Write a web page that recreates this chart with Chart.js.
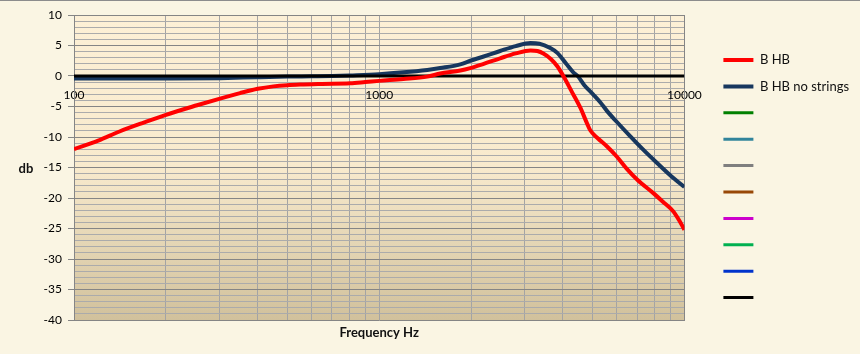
<!DOCTYPE html>
<html>
<head>
<meta charset="utf-8">
<script src="https://cdn.jsdelivr.net/npm/chart.js@4/dist/chart.umd.min.js"></script>
<style>
  html, body { margin: 0; padding: 0; background: #FAF5E3; }
  #wrap { width: 860px; height: 354px; position: relative; }
</style>
</head>
<body>
<div id="wrap"><canvas id="c" width="860" height="354"></canvas></div>
<script>
// ---- data ----
const seriesNames = ['B HB', 'B HB no strings', '', '', '', '', '', '', '', ''];
const seriesColors = ['#FF0000', '#17375E', '#008000', '#31849B', '#7F7F7F', '#984807', '#CC00CC', '#00B050', '#0033CC', '#000000'];

const bhbFreq = [100, 120, 141, 170, 199, 253, 301, 350, 400, 450, 500, 551, 650, 803, 900, 1000, 1200, 1437, 1585, 1844, 1988, 2200, 2490, 2800, 3130, 3300, 3450, 3650, 3833, 4012, 4300, 4560, 4800, 4915, 5200, 5590, 6000, 6500, 7010, 7910, 8500, 9200, 9600, 10000];
const bhbDb   = [-12.0, -10.6, -9.1, -7.6, -6.4, -4.8, -3.7, -2.8, -2.1, -1.7, -1.5, -1.4, -1.3, -1.2, -1.0, -0.8, -0.5, -0.1, 0.4, 0.9, 1.3, 2.0, 2.9, 3.7, 4.2, 4.1, 3.7, 2.8, 1.6, 0.0, -2.8, -5.2, -7.8, -8.9, -10.2, -11.6, -13.2, -15.3, -17.0, -19.2, -20.6, -22.2, -23.6, -25.2];

const noStrFreq = [100, 200, 300, 400, 500, 600, 700, 803, 1000, 1200, 1437, 1585, 1844, 1988, 2200, 2490, 2800, 3130, 3350, 3636, 3833, 4100, 4325, 4470, 4700, 5020, 5300, 5590, 6000, 6650, 7300, 8150, 9000, 10000];
const noStrDb   = [-0.4, -0.4, -0.35, -0.2, -0.1, -0.05, 0.0, 0.1, 0.3, 0.6, 1.0, 1.3, 1.9, 2.5, 3.2, 4.1, 4.9, 5.4, 5.3, 4.6, 3.8, 2.0, 0.6, 0.0, -1.5, -3.0, -4.3, -5.8, -7.5, -9.9, -12.0, -14.3, -16.3, -18.2];

const zeroFreq = [100, 10000];
const zeroDb = [0, 0];

const xTickLabels = [100, 1000, 10000];
const yMin = -40, yMax = 10, yMajorStep = 5;
const xTitle = 'Frequency Hz';
const yTitle = 'db';

// ---- build ----
const toPts = (fs, vs) => fs.map((f, i) => ({x: f, y: vs[i]}));
const xGridValues = [];
for (let d = 100; d < 10000; d *= 10) for (let k = 1; k <= 9; k++) xGridValues.push(d * k);
xGridValues.push(10000);
const yGridValues = [];
for (let v = yMin; v <= yMax; v++) yGridValues.push(v);

const seriesData = [toPts(bhbFreq, bhbDb), toPts(noStrFreq, noStrDb), [], [], [], [], [], [], [], toPts(zeroFreq, zeroDb)];
const seriesWidths = [4, 4, 3, 3, 3, 3, 3, 3, 3, 3];
const seriesOrder = [0, 2, 3, 3, 3, 3, 3, 3, 3, 1];

const datasets = seriesNames.map((name, i) => ({
  label: name,
  data: seriesData[i],
  borderColor: seriesColors[i],
  backgroundColor: seriesColors[i],
  borderWidth: seriesWidths[i],
  pointRadius: 0,
  pointHoverRadius: 0,
  cubicInterpolationMode: 'monotone',
  order: seriesOrder[i],
  fill: false
}));

const FONT = 'Lato';

const decorPlugin = {
  id: 'decor',
  beforeDraw(chart) {
    const {ctx, chartArea: a} = chart;
    ctx.save();
    const g = ctx.createLinearGradient(0, a.top, 0, a.bottom);
    g.addColorStop(0, '#FDF0D6');
    g.addColorStop(0.5, '#F8EACD');
    g.addColorStop(1, '#D1C19C');
    ctx.fillStyle = g;
    ctx.fillRect(a.left, a.top, a.right - a.left, a.bottom - a.top);
    ctx.fillStyle = '#8C8C8C';
    ctx.fillRect(0, 0, chart.width, 1);
    ctx.restore();
  },
  afterDraw(chart) {
    const {ctx, chartArea: a} = chart;
    ctx.save();
    ctx.font = 'bold 13px ' + FONT;
    ctx.fillStyle = '#111';
    ctx.textAlign = 'center';
    ctx.textBaseline = 'middle';
    ctx.fillText(yTitle, 26, (a.top + a.bottom) / 2 + 1);
    ctx.restore();
  }
};

new Chart(document.getElementById('c'), {
  type: 'line',
  data: { datasets },
  plugins: [decorPlugin],
  options: {
    responsive: false,
    animation: false,
    devicePixelRatio: 1,
    layout: { padding: { top: 15, right: 8, bottom: 11.4, left: 0 } },
    plugins: {
      tooltip: { enabled: false },
      legend: {
        position: 'right',
        align: 'center',
        labels: {
          usePointStyle: true,
          pointStyle: 'line',
          pointStyleWidth: 30,
          padding: 13.4,
          color: '#111',
          font: { family: FONT, size: 13 },
          sort: (a, b) => a.datasetIndex - b.datasetIndex
        }
      }
    },
    scales: {
      x: {
        type: 'logarithmic',
        axis: 'x',
        position: { y: 0 },
        min: 100,
        max: 10000,
        afterBuildTicks: s => { s.ticks = xGridValues.map(v => ({ value: v })); },
        ticks: {
          autoSkip: false,
          maxRotation: 0,
          padding: 12,
          color: '#000',
          font: { family: FONT, size: 12 },
          callback: v => xTickLabels.includes(v) ? String(v) : ''
        },
        grid: { color: '#A4A4A4', drawTicks: false },
        border: { display: false }
      },
      x2: {
        type: 'linear',
        axis: 'x',
        position: 'bottom',
        min: 0, max: 1,
        grid: { display: false },
        ticks: { display: false },
        border: { display: false },
        title: { display: true, text: xTitle, color: '#111', font: { family: FONT, size: 13, weight: 'bold' }, padding: { top: 0, bottom: 2 } },
        afterFit: s => { s.height = 22.6; }
      },
      y: {
        type: 'linear',
        axis: 'y',
        position: 'left',
        min: yMin,
        max: yMax,
        afterBuildTicks: s => { s.ticks = yGridValues.map(v => ({ value: v })); },
        afterFit: s => { s.width = 74; },
        ticks: {
          autoSkip: false,
          padding: 6,
          color: '#000',
          font: { family: FONT, size: 12 },
          callback: v => (v % yMajorStep === 0) ? String(v) : ''
        },
        grid: {
          tickLength: 6,
          color: c => (c.tick && c.tick.value % yMajorStep === 0) ? '#858585' : '#ABABAB',
          tickColor: c => (c.tick && c.tick.value % yMajorStep === 0) ? '#858585' : 'rgba(0,0,0,0)'
        },
        border: { color: '#858585' }
      },
      y2: {
        type: 'linear',
        axis: 'y',
        position: 'right',
        min: yMin, max: yMax,
        grid: { display: false },
        ticks: { display: false },
        border: { display: true, color: '#858585' },
        afterFit: s => { s.width = 25.6; }
      }
    }
  }
});
</script>
</body>
</html>
